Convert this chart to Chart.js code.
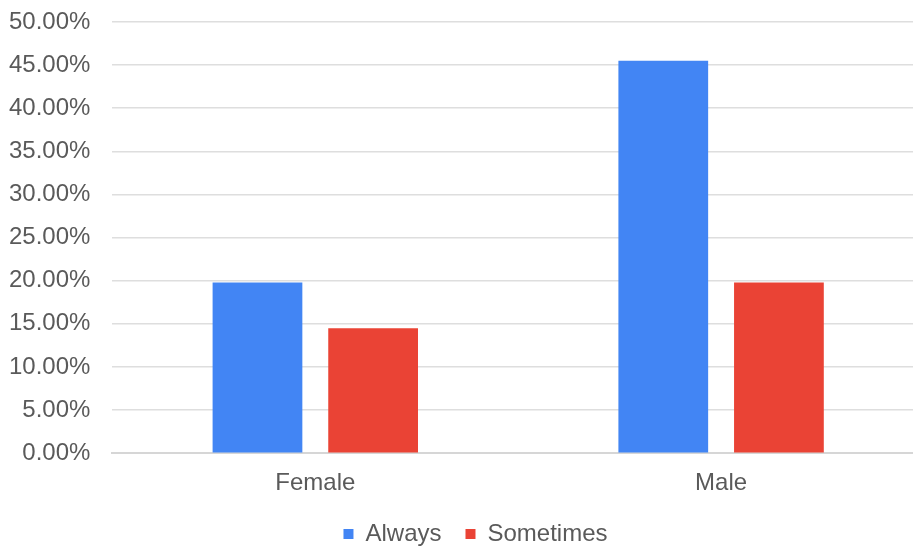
<!DOCTYPE html>
<html>
<head>
<meta charset="utf-8">
<script src="https://cdn.jsdelivr.net/npm/chart.js@4/dist/chart.umd.min.js"></script>
<style>
  html, body { margin: 0; padding: 0; background: #fff; overflow: hidden; }
  #wrap { width: 952px; height: 546px; position: relative; }
</style>
</head>
<body>
<div id="wrap"><canvas id="c"></canvas></div>
<script>
// Share of respondents by gender and frequency (percent)
const categories = ['Female', 'Male'];
const alwaysValues = [19.8, 45.5];
const sometimesValues = [14.5, 19.8];
const seriesNames = ['Always', 'Sometimes'];
const yTicks = { min: 0, max: 50, step: 5 };

const textColor = '#5a5a5a';
const fontFamily = '"Liberation Sans", Arial, sans-serif';

// Nudge the legend so it sits centred on the whole canvas, just under the axis labels
const legendOffset = {
  id: 'legendOffset',
  afterLayout(chart) {
    const lg = chart.legend;
    if (!lg) return;
    const dx = 20, dy = -16;
    lg.left += dx; lg.right += dx;
    lg.top += dy; lg.bottom += dy;
  }
};

new Chart(document.getElementById('c'), {
  type: 'bar',
  data: {
    labels: categories,
    datasets: [
      { label: seriesNames[0], data: alwaysValues, backgroundColor: '#4285f4',
        categoryPercentage: 0.57, barPercentage: 0.776 },
      { label: seriesNames[1], data: sometimesValues, backgroundColor: '#ea4335',
        categoryPercentage: 0.57, barPercentage: 0.776 }
    ]
  },
  plugins: [legendOffset],
  options: {
    responsive: true,
    maintainAspectRatio: false,
    animation: false,
    layout: { padding: { left: -13, right: 28, top: 22, bottom: -26 } },
    plugins: {
      tooltip: { enabled: false },
      legend: {
        position: 'bottom',
        labels: {
          color: textColor,
          font: { family: fontFamily, size: 24 },
          boxWidth: 10,
          boxHeight: 10,
          padding: 24
        }
      }
    },
    scales: {
      x: {
        grid: { display: false, drawTicks: false },
        border: { display: true, color: '#d6d6d6', width: 2 },
        ticks: { color: textColor, font: { family: fontFamily, size: 24 }, padding: 16 }
      },
      y: {
        min: yTicks.min,
        max: yTicks.max,
        border: { display: false },
        grid: { color: '#dedede', lineWidth: 1.5, drawTicks: false },
        afterFit(scale) { scale.paddingTop = 0; },
        ticks: {
          stepSize: yTicks.step,
          color: textColor,
          font: { family: fontFamily, size: 24 },
          padding: 22,
          callback: v => v.toFixed(2) + '%'
        }
      }
    }
  }
});
</script>
</body>
</html>
